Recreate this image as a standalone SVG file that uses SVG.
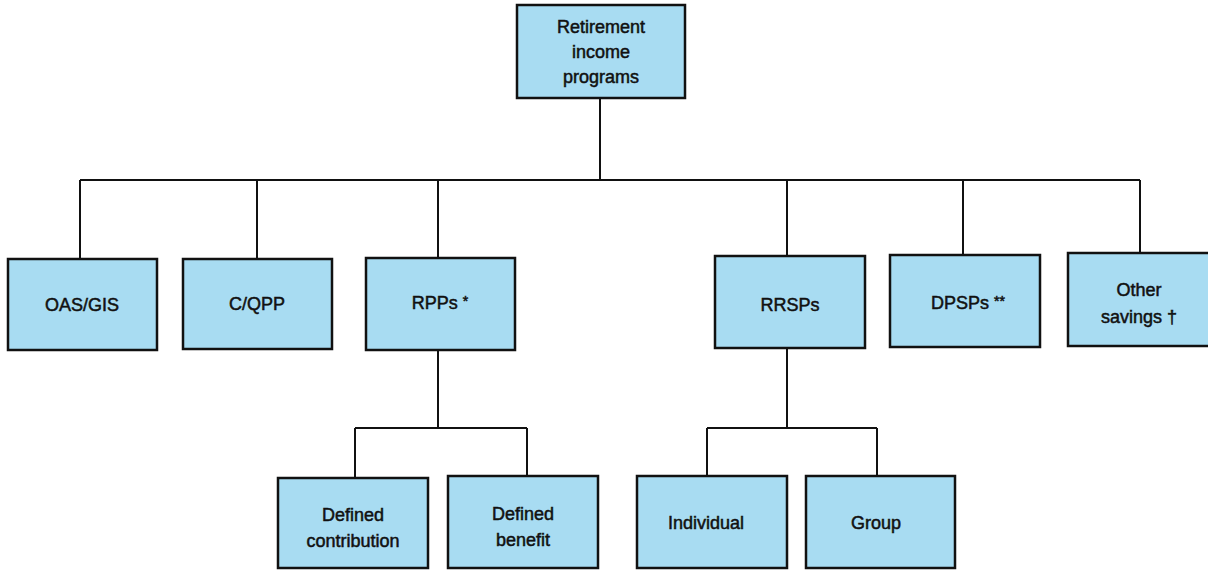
<svg xmlns="http://www.w3.org/2000/svg" width="1208" height="572" viewBox="0 0 1208 572">
<style>
.box{fill:#a8dcf2;stroke:#111;stroke-width:2.5}
.t{font-family:"Liberation Sans",Arial,sans-serif;font-size:18px;fill:#111;text-anchor:middle;stroke:#111;stroke-width:0.5}
.sup{font-size:14px}
.c{fill:none;stroke:#111;stroke-width:2}
</style>
<rect width="1208" height="572" fill="#fff"/>
<g id="connectors">
<path class="c" d="M600 98V180M80 180H1140M80 180V259M257 180V259M438 180V258M787 180V256M963 180V255M1140 180V253"/>
<path class="c" d="M438 350V428M355 428H527M355 428V478M527 428V476"/>
<path class="c" d="M787 348V428M707 428H877M707 428V476M877 428V476"/>
</g>
<g id="root"><rect class="box" x="517" y="5" width="168" height="93"/>
<text class="t" x="601" y="33">Retirement</text><text class="t" x="601" y="58">income</text><text class="t" x="601" y="83">programs</text></g>
<g id="oas"><rect class="box" x="8" y="259" width="149" height="91"/><text class="t" x="82" y="311">OAS/GIS</text></g>
<g id="cqpp"><rect class="box" x="183" y="259" width="149" height="90"/><text class="t" x="257" y="310">C/QPP</text></g>
<g id="rpps"><rect class="box" x="366" y="258" width="149" height="92"/><text class="t" x="440" y="309">RPPs <tspan class="sup" dy="-3">*</tspan></text></g>
<g id="rrsps"><rect class="box" x="715" y="256" width="150" height="92"/><text class="t" x="790" y="311">RRSPs</text></g>
<g id="dpsps"><rect class="box" x="890" y="255" width="150" height="92"/><text class="t" x="968" y="309">DPSPs <tspan class="sup" dy="-3">**</tspan></text></g>
<g id="other"><rect class="box" x="1068" y="253" width="145" height="93"/><text class="t" x="1139" y="296">Other</text><text class="t" x="1139" y="323">savings †</text></g>
<g id="dc"><rect class="box" x="278" y="478" width="150" height="90"/><text class="t" x="353" y="521">Defined</text><text class="t" x="353" y="547">contribution</text></g>
<g id="db"><rect class="box" x="448" y="476" width="150" height="92"/><text class="t" x="523" y="520">Defined</text><text class="t" x="523" y="546">benefit</text></g>
<g id="individual"><rect class="box" x="637" y="476" width="150" height="92"/><text class="t" x="706" y="529">Individual</text></g>
<g id="group"><rect class="box" x="806" y="476" width="149" height="92"/><text class="t" x="876" y="529">Group</text></g>
</svg>
